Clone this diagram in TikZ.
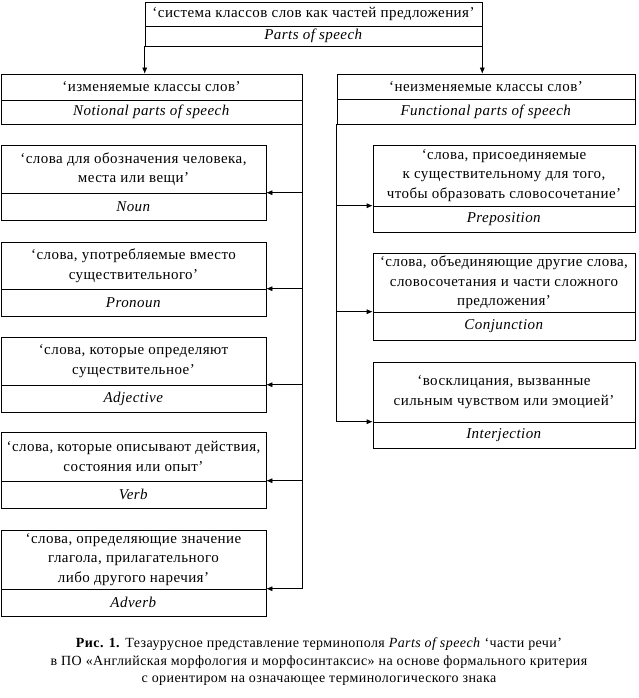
\documentclass[tikz,border=0pt]{standalone}
\usepackage{fontspec}
\setmainfont{Liberation Serif}[LetterSpace=3]
\usetikzlibrary{arrows.meta}
\newcommand{\mybox}[8]{%
  \node[cell, minimum width={(#3-#2)*1pt}, minimum height={(#5-#4)*1pt}] (#1A) at ({(#2+#3)/2},{(#4+#5)/2}) {#7};
  \node[cell, minimum width={(#3-#2)*1pt}, minimum height={(#6-#5)*1pt}] (#1B) at ({(#2+#3)/2},{(#5+#6)/2}) {\textit{#8}};
}
\begin{document}
\begin{tikzpicture}[x=1pt,y=-1pt,
  cell/.style={draw, line width=0.6pt, inner sep=0pt, align=center, font=\fontsize{15}{19.5}\selectfont},
  arr/.style={line width=0.6pt, -{Latex[length=6pt,width=5pt]}},
  bus/.style={line width=0.6pt}]
\useasboundingbox (0,0) rectangle (638,698);
\mybox{top}{145}{482}{2}{26}{46}{‘система классов слов как частей предложения’}{Parts of speech}
\mybox{not}{1}{302}{74}{100}{124}{‘изменяемые классы слов’}{Notional parts of speech}
\mybox{fun}{337}{635}{74}{99}{124}{‘неизменяемые классы слов’}{Functional parts of speech}
\mybox{noun}{1}{266}{145}{193}{220}{‘слова для обозначения человека,\\места или вещи’}{Noun}
\mybox{pron}{1}{266}{242}{289}{316}{‘слова, употребляемые вместо\\существительного’}{Pronoun}
\mybox{adj}{1}{266}{337}{385}{412}{‘слова, которые определяют\\существительное’}{Adjective}
\mybox{verb}{1}{266}{432}{481}{508}{‘слова, которые описывают действия,\\состояния или опыт’}{Verb}
\mybox{adv}{1}{266}{530}{589}{616}{‘слова, определяющие значение\\глагола, прилагательного\\либо другого наречия’}{Adverb}
\mybox{prep}{373}{635}{145}{206}{232}{‘слова, присоединяемые\\к существительному для того,\\чтобы образовать словосочетание’}{Preposition}
\mybox{conj}{373}{635}{253}{312}{340}{‘слова, объединяющие другие слова,\\словосочетания и части сложного\\предложения’}{Conjunction}
\mybox{intj}{373}{635}{362}{422}{448}{‘восклицания, вызванные\\сильным чувством или эмоцией’}{Interjection}
% top connectors
\draw[arr] (topB.south west) -- (topB.south west |- notA.north);
\draw[arr] (topB.south east) -- (topB.south east |- funA.north);
% left bus
\draw[bus] (notB.south east) -- (notB.south east |- advB.north);
\foreach \n in {noun,pron,adj,verb,adv}
  \draw[arr] (notB.south east |- \n B.north) -- (\n B.north east);
% right bus
\draw[bus] (funB.south west) -- (funB.south west |- intjB.north);
\foreach \n in {prep,conj,intj}
  \draw[arr] (funB.south west |- \n B.north) -- (\n B.north west);
% caption
\node[align=center, font=\fontsize{14}{17.5}\selectfont] (cap) at (319,662)
  {\textbf{Рис. 1.} Тезаурусное представление терминополя \textit{Parts of speech} ‘части речи’\\
   в ПО «Английская морфология и морфосинтаксис» на основе формального критерия\\
   с ориентиром на означающее терминологического знака};
\end{tikzpicture}
\end{document}
